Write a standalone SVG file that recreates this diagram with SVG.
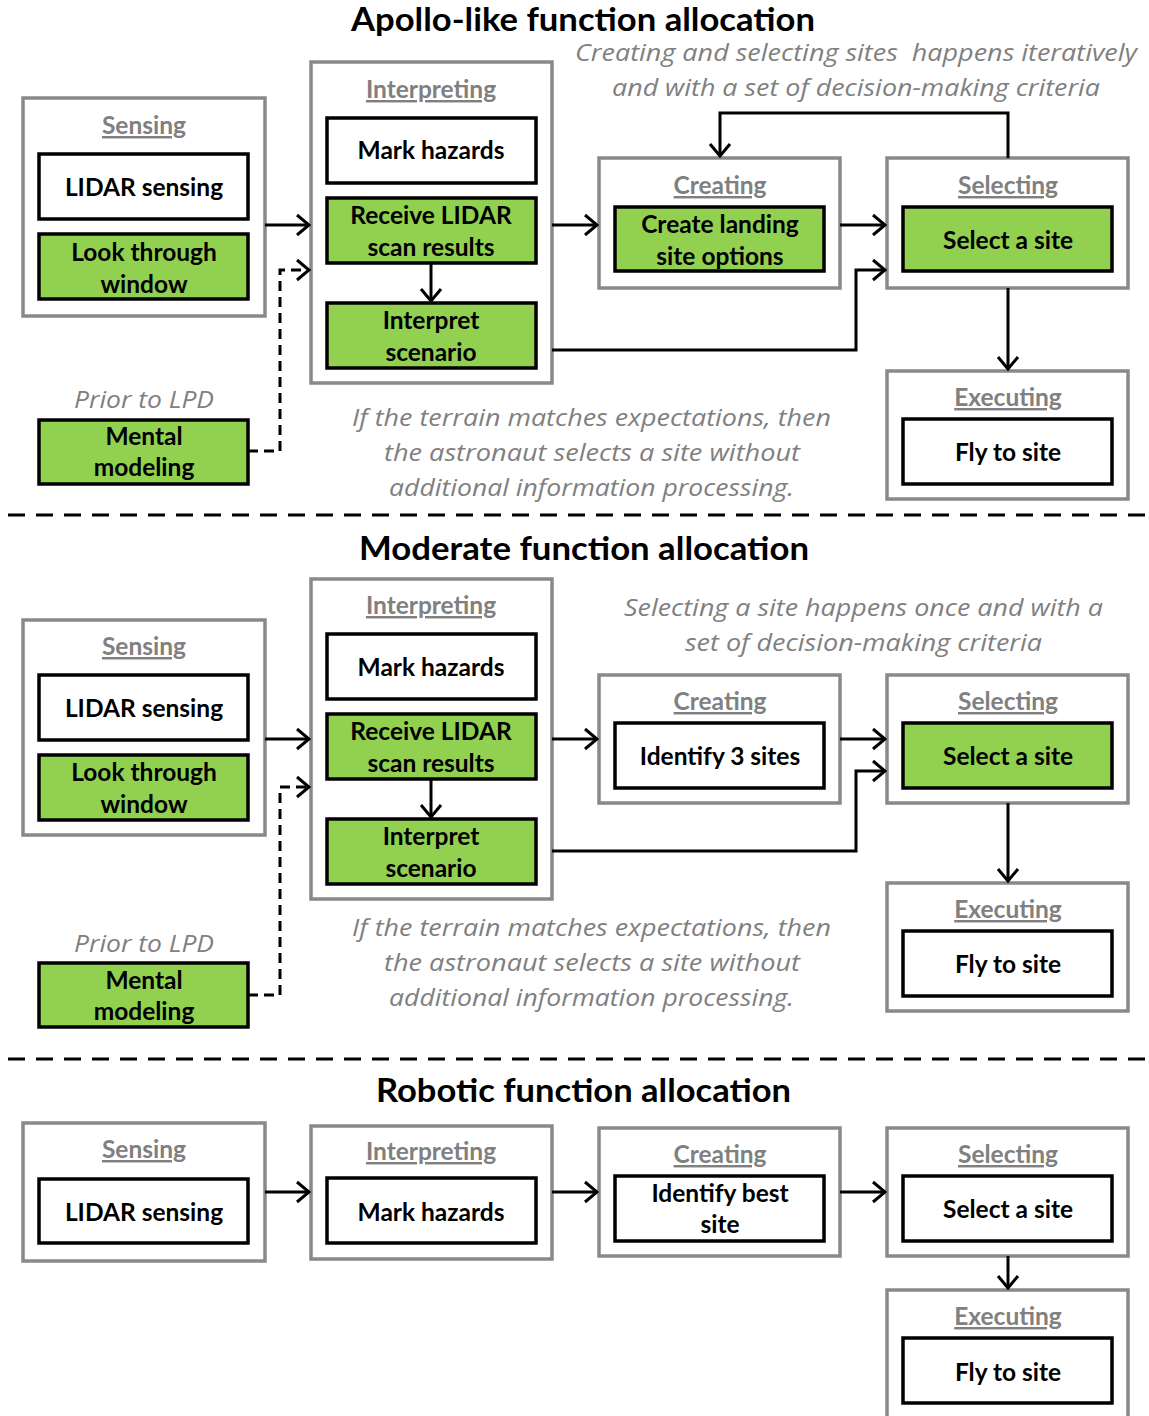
<svg xmlns="http://www.w3.org/2000/svg" width="1149" height="1416" viewBox="0 0 1149 1416">
<style>
.outer{fill:#fff;stroke:#898989;stroke-width:3.5}
.node{stroke:#000;stroke-width:3.5}
.w{fill:#fff}
.g{fill:#92d050}
text{font-family:Lato,"Open Sans","Liberation Sans",sans-serif;text-anchor:middle}
.lbl{font-weight:bold;font-size:24.5px;fill:#808080;text-decoration:underline}
.nt{font-weight:bold;font-size:24.5px;fill:#000}
.note{font-family:"Open Sans",Lato,"Liberation Sans",sans-serif;font-style:italic;font-size:24px;fill:#808080}
.title{font-weight:bold;font-size:33px;fill:#000}
.conn{fill:none;stroke:#000;stroke-width:3}
.dash{stroke-dasharray:10 6}
.sep{fill:none;stroke:#000;stroke-width:3;stroke-dasharray:17 11}
</style>
<defs>
<marker id="arr" markerUnits="userSpaceOnUse" viewBox="0 0 16 24" refX="14" refY="12" markerWidth="16" markerHeight="24" orient="auto">
<path d="M2,2 L14,12 L2,22" fill="none" stroke="#000" stroke-width="3"/>
</marker>
</defs>

<!-- Section 1 -->
<text class="title" x="583" y="31" textLength="464" lengthAdjust="spacingAndGlyphs">Apollo-like function allocation</text>
<text class="note" x="856" y="61" xml:space="preserve" textLength="562" lengthAdjust="spacingAndGlyphs">Creating and selecting sites  happens iteratively</text>
<text class="note" x="856" y="96" textLength="488" lengthAdjust="spacingAndGlyphs">and with a set of decision-making criteria</text>

<g id="s1-sensing">
<rect class="outer" x="23" y="98" width="242" height="218"/>
<text class="lbl" x="144" y="134">Sensing</text>
</g>
<g id="s1-lidar"><rect class="node w" x="39" y="154" width="209" height="65"/><text class="nt" x="144" y="196">LIDAR sensing</text></g>
<g id="s1-look"><rect class="node g" x="39" y="234" width="209" height="65"/><text class="nt" x="144" y="261">Look through</text><text class="nt" x="144" y="293">window</text></g>

<g id="s1-interpreting">
<rect class="outer" x="311" y="62" width="241" height="321"/>
<text class="lbl" x="431" y="98">Interpreting</text>
</g>
<g id="s1-mark"><rect class="node w" x="327" y="118" width="209" height="65"/><text class="nt" x="431" y="159">Mark hazards</text></g>
<g id="s1-receive"><rect class="node g" x="327" y="198" width="209" height="65"/><text class="nt" x="431" y="224">Receive LIDAR</text><text class="nt" x="431" y="256">scan results</text></g>
<g id="s1-interpret"><rect class="node g" x="327" y="303" width="209" height="65"/><text class="nt" x="431" y="329">Interpret</text><text class="nt" x="431" y="361">scenario</text></g>

<g id="s1-creating">
<rect class="outer" x="599" y="158" width="241" height="130"/>
<text class="lbl" x="720" y="194">Creating</text>
</g>
<g id="s1-create"><rect class="node g" x="615" y="207" width="209" height="64"/><text class="nt" x="720" y="233">Create landing</text><text class="nt" x="720" y="265">site options</text></g>

<g id="s1-selecting">
<rect class="outer" x="887" y="158" width="241" height="130"/>
<text class="lbl" x="1008" y="194">Selecting</text>
</g>
<g id="s1-select"><rect class="node g" x="903" y="207" width="209" height="64"/><text class="nt" x="1008" y="249">Select a site</text></g>

<g id="s1-executing">
<rect class="outer" x="887" y="371" width="241" height="128"/>
<text class="lbl" x="1008" y="406">Executing</text>
</g>
<g id="s1-fly"><rect class="node w" x="903" y="419" width="209" height="65"/><text class="nt" x="1008" y="461">Fly to site</text></g>

<g id="s1-mental">
<text class="note" x="144" y="408" textLength="140" lengthAdjust="spacingAndGlyphs">Prior to LPD</text>
<rect class="node g" x="39" y="420" width="209" height="64"/><text class="nt" x="144" y="445">Mental</text><text class="nt" x="144" y="476">modeling</text>
</g>

<text class="note" x="591.5" y="426" textLength="479" lengthAdjust="spacingAndGlyphs">If the terrain matches expectations, then</text>
<text class="note" x="592" y="461" textLength="416" lengthAdjust="spacingAndGlyphs">the astronaut selects a site without</text>
<text class="note" x="591.5" y="496" textLength="405" lengthAdjust="spacingAndGlyphs">additional information processing.</text>

<line class="sep" x1="8" y1="515" x2="1145" y2="515"/>

<!-- Section 2 -->
<text class="title" x="584" y="560" textLength="450" lengthAdjust="spacingAndGlyphs">Moderate function allocation</text>
<text class="note" x="863.5" y="616" textLength="479" lengthAdjust="spacingAndGlyphs">Selecting a site happens once and with a</text>
<text class="note" x="863.5" y="651" textLength="357" lengthAdjust="spacingAndGlyphs">set of decision-making criteria</text>

<g id="s2-sensing">
<rect class="outer" x="23" y="620" width="242" height="215"/>
<text class="lbl" x="144" y="655">Sensing</text>
</g>
<g id="s2-lidar"><rect class="node w" x="39" y="675" width="209" height="65"/><text class="nt" x="144" y="717">LIDAR sensing</text></g>
<g id="s2-look"><rect class="node g" x="39" y="755" width="209" height="65"/><text class="nt" x="144" y="781">Look through</text><text class="nt" x="144" y="813">window</text></g>

<g id="s2-interpreting">
<rect class="outer" x="311" y="579" width="241" height="320"/>
<text class="lbl" x="431" y="614">Interpreting</text>
</g>
<g id="s2-mark"><rect class="node w" x="327" y="634" width="209" height="65"/><text class="nt" x="431" y="676">Mark hazards</text></g>
<g id="s2-receive"><rect class="node g" x="327" y="714" width="209" height="65"/><text class="nt" x="431" y="740">Receive LIDAR</text><text class="nt" x="431" y="772">scan results</text></g>
<g id="s2-interpret"><rect class="node g" x="327" y="819" width="209" height="65"/><text class="nt" x="431" y="845">Interpret</text><text class="nt" x="431" y="877">scenario</text></g>

<g id="s2-creating">
<rect class="outer" x="599" y="675" width="241" height="128"/>
<text class="lbl" x="720" y="710">Creating</text>
</g>
<g id="s2-identify"><rect class="node w" x="615" y="723" width="209" height="65"/><text class="nt" x="720" y="765">Identify 3 sites</text></g>

<g id="s2-selecting">
<rect class="outer" x="887" y="675" width="241" height="128"/>
<text class="lbl" x="1008" y="710">Selecting</text>
</g>
<g id="s2-select"><rect class="node g" x="903" y="723" width="209" height="65"/><text class="nt" x="1008" y="765">Select a site</text></g>

<g id="s2-executing">
<rect class="outer" x="887" y="883" width="241" height="128"/>
<text class="lbl" x="1008" y="918">Executing</text>
</g>
<g id="s2-fly"><rect class="node w" x="903" y="931" width="209" height="65"/><text class="nt" x="1008" y="973">Fly to site</text></g>

<g id="s2-mental">
<text class="note" x="144" y="952" textLength="140" lengthAdjust="spacingAndGlyphs">Prior to LPD</text>
<rect class="node g" x="39" y="963" width="209" height="64"/><text class="nt" x="144" y="989">Mental</text><text class="nt" x="144" y="1020">modeling</text>
</g>

<text class="note" x="591.5" y="936" textLength="479" lengthAdjust="spacingAndGlyphs">If the terrain matches expectations, then</text>
<text class="note" x="592" y="971" textLength="416" lengthAdjust="spacingAndGlyphs">the astronaut selects a site without</text>
<text class="note" x="591.5" y="1006" textLength="405" lengthAdjust="spacingAndGlyphs">additional information processing.</text>

<line class="sep" x1="8" y1="1059" x2="1145" y2="1059"/>

<!-- Section 3 -->
<text class="title" x="583.5" y="1102" textLength="415" lengthAdjust="spacingAndGlyphs">Robotic function allocation</text>

<g id="s3-sensing">
<rect class="outer" x="23" y="1123" width="242" height="138"/>
<text class="lbl" x="144" y="1158">Sensing</text>
</g>
<g id="s3-lidar"><rect class="node w" x="39" y="1179" width="209" height="64"/><text class="nt" x="144" y="1221">LIDAR sensing</text></g>

<g id="s3-interpreting">
<rect class="outer" x="311" y="1126" width="241" height="133"/>
<text class="lbl" x="431" y="1160">Interpreting</text>
</g>
<g id="s3-mark"><rect class="node w" x="327" y="1178" width="209" height="65"/><text class="nt" x="431" y="1221">Mark hazards</text></g>

<g id="s3-creating">
<rect class="outer" x="599" y="1128" width="241" height="128"/>
<text class="lbl" x="720" y="1163">Creating</text>
</g>
<g id="s3-identify"><rect class="node w" x="615" y="1176" width="209" height="65"/><text class="nt" x="720" y="1202">Identify best</text><text class="nt" x="720" y="1233">site</text></g>

<g id="s3-selecting">
<rect class="outer" x="887" y="1128" width="241" height="128"/>
<text class="lbl" x="1008" y="1163">Selecting</text>
</g>
<g id="s3-select"><rect class="node w" x="903" y="1176" width="209" height="65"/><text class="nt" x="1008" y="1218">Select a site</text></g>

<g id="s3-executing">
<rect class="outer" x="887" y="1290" width="241" height="140"/>
<text class="lbl" x="1008" y="1325">Executing</text>
</g>
<g id="s3-fly"><rect class="node w" x="903" y="1338" width="209" height="65"/><text class="nt" x="1008" y="1381">Fly to site</text></g>

<g id="connectors">
<!-- section 1 -->
<path class="conn" d="M265,225 H309" marker-end="url(#arr)"/>
<path class="conn dash" d="M248,451 H280 V270 H309" marker-end="url(#arr)"/>
<path class="conn" d="M431,263 V301" marker-end="url(#arr)"/>
<path class="conn" d="M552,225 H597" marker-end="url(#arr)"/>
<path class="conn" d="M840,225 H885" marker-end="url(#arr)"/>
<path class="conn" d="M552,350 H856 V270 H885" marker-end="url(#arr)"/>
<path class="conn" d="M1008,158 V113 H720 V156" marker-end="url(#arr)"/>
<path class="conn" d="M1008,288 V369" marker-end="url(#arr)"/>
<!-- section 2 -->
<path class="conn" d="M265,739 H309" marker-end="url(#arr)"/>
<path class="conn dash" d="M248,995 H280 V787 H309" marker-end="url(#arr)"/>
<path class="conn" d="M431,779 V817" marker-end="url(#arr)"/>
<path class="conn" d="M552,739 H597" marker-end="url(#arr)"/>
<path class="conn" d="M840,739 H885" marker-end="url(#arr)"/>
<path class="conn" d="M552,851 H856 V771 H885" marker-end="url(#arr)"/>
<path class="conn" d="M1008,803 V881" marker-end="url(#arr)"/>
<!-- section 3 -->
<path class="conn" d="M265,1192 H309" marker-end="url(#arr)"/>
<path class="conn" d="M552,1192 H597" marker-end="url(#arr)"/>
<path class="conn" d="M840,1192 H885" marker-end="url(#arr)"/>
<path class="conn" d="M1008,1256 V1288" marker-end="url(#arr)"/>
</g>
</svg>
